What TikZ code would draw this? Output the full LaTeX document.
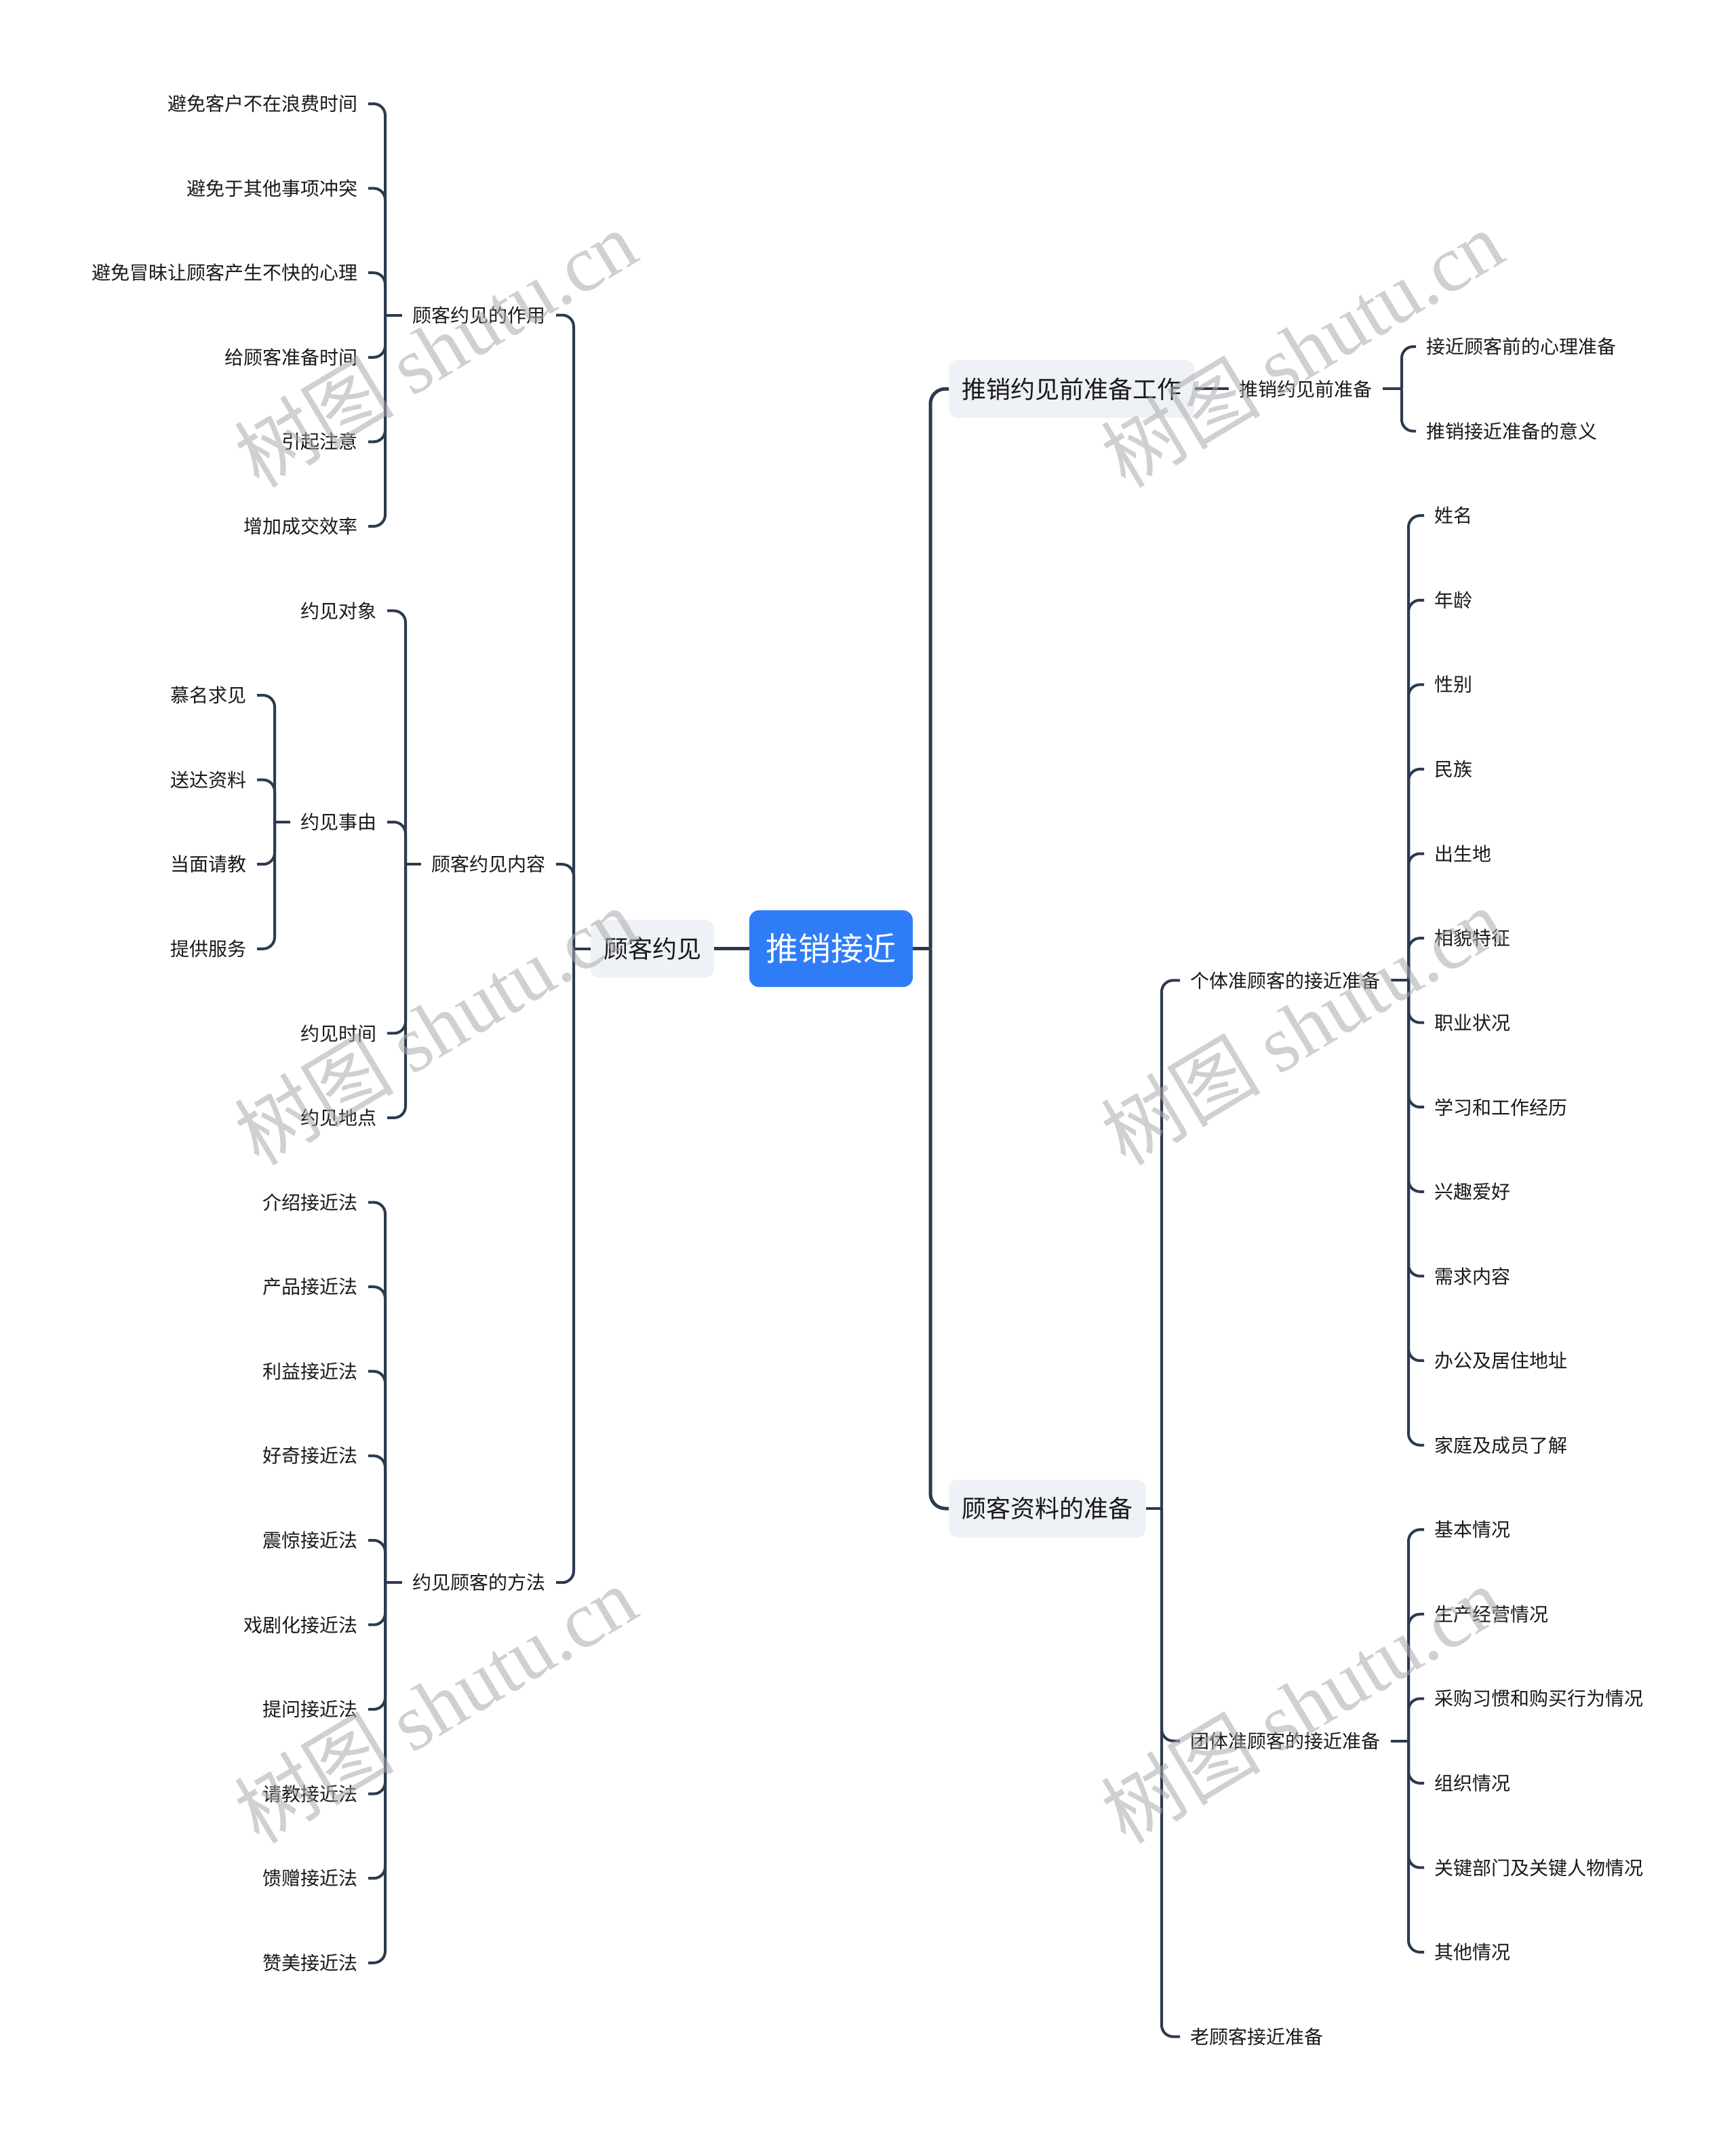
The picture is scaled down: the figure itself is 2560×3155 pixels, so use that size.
\documentclass[tikz,border=0pt]{standalone}
\usepackage{fontspec}
\setmainfont{Noto Sans CJK SC}
\newfontfamily\wmlatin{Liberation Serif}
\definecolor{lc}{RGB}{44,58,80}
\definecolor{tc}{RGB}{25,25,25}
\definecolor{topicbg}{RGB}{238,241,245}
\definecolor{rootbg}{RGB}{47,125,246}
\definecolor{wmc}{RGB}{170,170,170}
\begin{document}
\begin{tikzpicture}[x=0.5pt,y=-0.5pt,
  conn/.style={draw=lc,line width=2pt,rounded corners=8.5pt},
  mconn/.style={draw=lc,line width=2.5pt,rounded corners=11pt},
  leaf/.style={font=\fontsize{14pt}{16pt}\selectfont,text=tc,inner xsep=7.5pt,inner ysep=3pt},
  leafL/.style={leaf,anchor=east},
  leafR/.style={leaf,anchor=west},
  topic/.style={fill=topicbg,rounded corners=6pt,text=tc,font=\fontsize{18pt}{21pt}\selectfont,inner xsep=9.5pt,inner ysep=0pt,minimum height=42.5pt},
  rootnode/.style={fill=rootbg,rounded corners=7pt,text=white,font=\fontsize{24pt}{28pt}\selectfont,inner xsep=12.25pt,inner ysep=0pt,minimum height=56.5pt},
  wm/.style={text=wmc,opacity=0.55,rotate=31,font=\fontsize{59pt}{64pt}\selectfont}]
\useasboundingbox (0,0) rectangle (2560,3155);
\fill[white] (0,0) rectangle (2560,3155);

% trunk coordinates
\coordinate (tR) at (1372,0);
\coordinate (tL) at (846,0);
\coordinate (tA) at (568,0);
\coordinate (tB) at (598,0);
\coordinate (tC) at (405,0);
\coordinate (tP) at (1713,0);
\coordinate (tS) at (2067,0);
\coordinate (tG) at (2077,0);

% root and level 1
\node[rootnode] (root) at (1225.5,1398.6) {推销接近};
\node[topic] (yj) at (962,1398.6) {顾客约见};
\node[topic,anchor=west] (r1) at (1399,573.3) {推销约见前准备工作};
\node[topic,anchor=west] (r2) at (1399,2224) {顾客资料的准备};

% left level 2
\node[leafL] (zy) at (820,464.5) {顾客约见的作用};
\node[leafL] (nr) at (820,1274.2) {顾客约见内容};
\node[leafL] (ff) at (820,2333.2) {约见顾客的方法};

% left leaves: 作用
\foreach \t [count=\i from 0] in {避免客户不在浪费时间,避免于其他事项冲突,避免冒昧让顾客产生不快的心理,给顾客准备时间,引起注意,增加成交效率}
  \node[leafL] (a\i) at (543,{153+124.58*\i}) {\t};
% 内容 children
\node[leafL] (b0) at (571,{153+124.58*6}) {约见对象};
\node[leafL] (b1) at (571,1212) {约见事由};
\node[leafL] (b2) at (571,{153+124.58*11}) {约见时间};
\node[leafL] (b3) at (571,{153+124.58*12}) {约见地点};
% 事由 children
\foreach \t [count=\i from 0] in {慕名求见,送达资料,当面请教,提供服务}
  \node[leafL] (c\i) at (379,{153+124.58*(\i+7)}) {\t};
% 方法 children
\foreach \t [count=\i from 0] in {介绍接近法,产品接近法,利益接近法,好奇接近法,震惊接近法,戏剧化接近法,提问接近法,请教接近法,馈赠接近法,赞美接近法}
  \node[leafL] (m\i) at (543,{153+124.58*(\i+13)}) {\t};

% right level 2
\node[leafR] (s1) at (1812,573.3) {推销约见前准备};
\node[leafR] (p1) at (1740,1445.3) {个体准顾客的接近准备};
\node[leafR] (p2) at (1740,2566.6) {团体准顾客的接近准备};
\node[leafR] (p3) at (1740,{511+124.58*20}) {老顾客接近准备};

% right leaves
\node[leafR] (s1a) at (2088,511) {接近顾客前的心理准备};
\node[leafR] (s1b) at (2088,635.6) {推销接近准备的意义};
\foreach \t [count=\i from 0] in {姓名,年龄,性别,民族,出生地,相貌特征,职业状况,学习和工作经历,兴趣爱好,需求内容,办公及居住地址,家庭及成员了解}
  \node[leafR] (g\i) at (2100,{511+124.58*(\i+2)}) {\t};
\foreach \t [count=\i from 0] in {基本情况,生产经营情况,采购习惯和购买行为情况,组织情况,关键部门及关键人物情况,其他情况}
  \node[leafR] (h\i) at (2100,{511+124.58*(\i+14)}) {\t};

% ---- connectors ----
% root
\draw[mconn] (root.west) -- (yj.east);
\draw[mconn] (root.east) -- (root.east -| tR);
\draw[mconn] (root.east -| tR) |- (r1.west);
\draw[mconn] (root.east -| tR) |- (r2.west);

% 顾客约见 -> level 2
\draw[conn] (yj.west) -- (yj.west -| tL);
\foreach \c in {zy,nr,ff}
  \draw[conn] (yj.west -| tL) |- (\c.east);

% 作用 -> leaves
\draw[conn] (zy.west) -- (zy.west -| tA);
\foreach \i in {0,...,5}
  \draw[conn] (zy.west -| tA) |- (a\i.east);

% 内容 -> children
\draw[conn] (nr.west) -- (nr.west -| tB);
\foreach \i in {0,...,3}
  \draw[conn] (nr.west -| tB) |- (b\i.east);

% 事由 -> children
\draw[conn] (b1.west) -- (b1.west -| tC);
\foreach \i in {0,...,3}
  \draw[conn] (b1.west -| tC) |- (c\i.east);

% 方法 -> leaves
\draw[conn] (ff.west) -- (ff.west -| tA);
\foreach \i in {0,...,9}
  \draw[conn] (ff.west -| tA) |- (m\i.east);

% right: 推销约见前准备工作
\draw[conn] (r1.east) -- (s1.west);
\draw[conn] (s1.east) -- (s1.east -| tS);
\draw[conn] (s1.east -| tS) |- (s1a.west);
\draw[conn] (s1.east -| tS) |- (s1b.west);

% right: 顾客资料的准备
\draw[conn] (r2.east) -- (r2.east -| tP);
\foreach \c in {p1,p2,p3}
  \draw[conn] (r2.east -| tP) |- (\c.west);

\draw[conn] (p1.east) -- (p1.east -| tG);
\foreach \i in {0,...,11}
  \draw[conn] (p1.east -| tG) |- (g\i.west);

\draw[conn] (p2.east) -- (p2.east -| tG);
\foreach \i in {0,...,5}
  \draw[conn] (p2.east -| tG) |- (h\i.west);

% watermarks
\foreach \wx in {642,1920}
  \foreach \wy in {513,1512,2512}
    \node[wm] at (\wx,\wy) {树图 {\wmlatin shutu.cn}};
\end{tikzpicture}
\end{document}
